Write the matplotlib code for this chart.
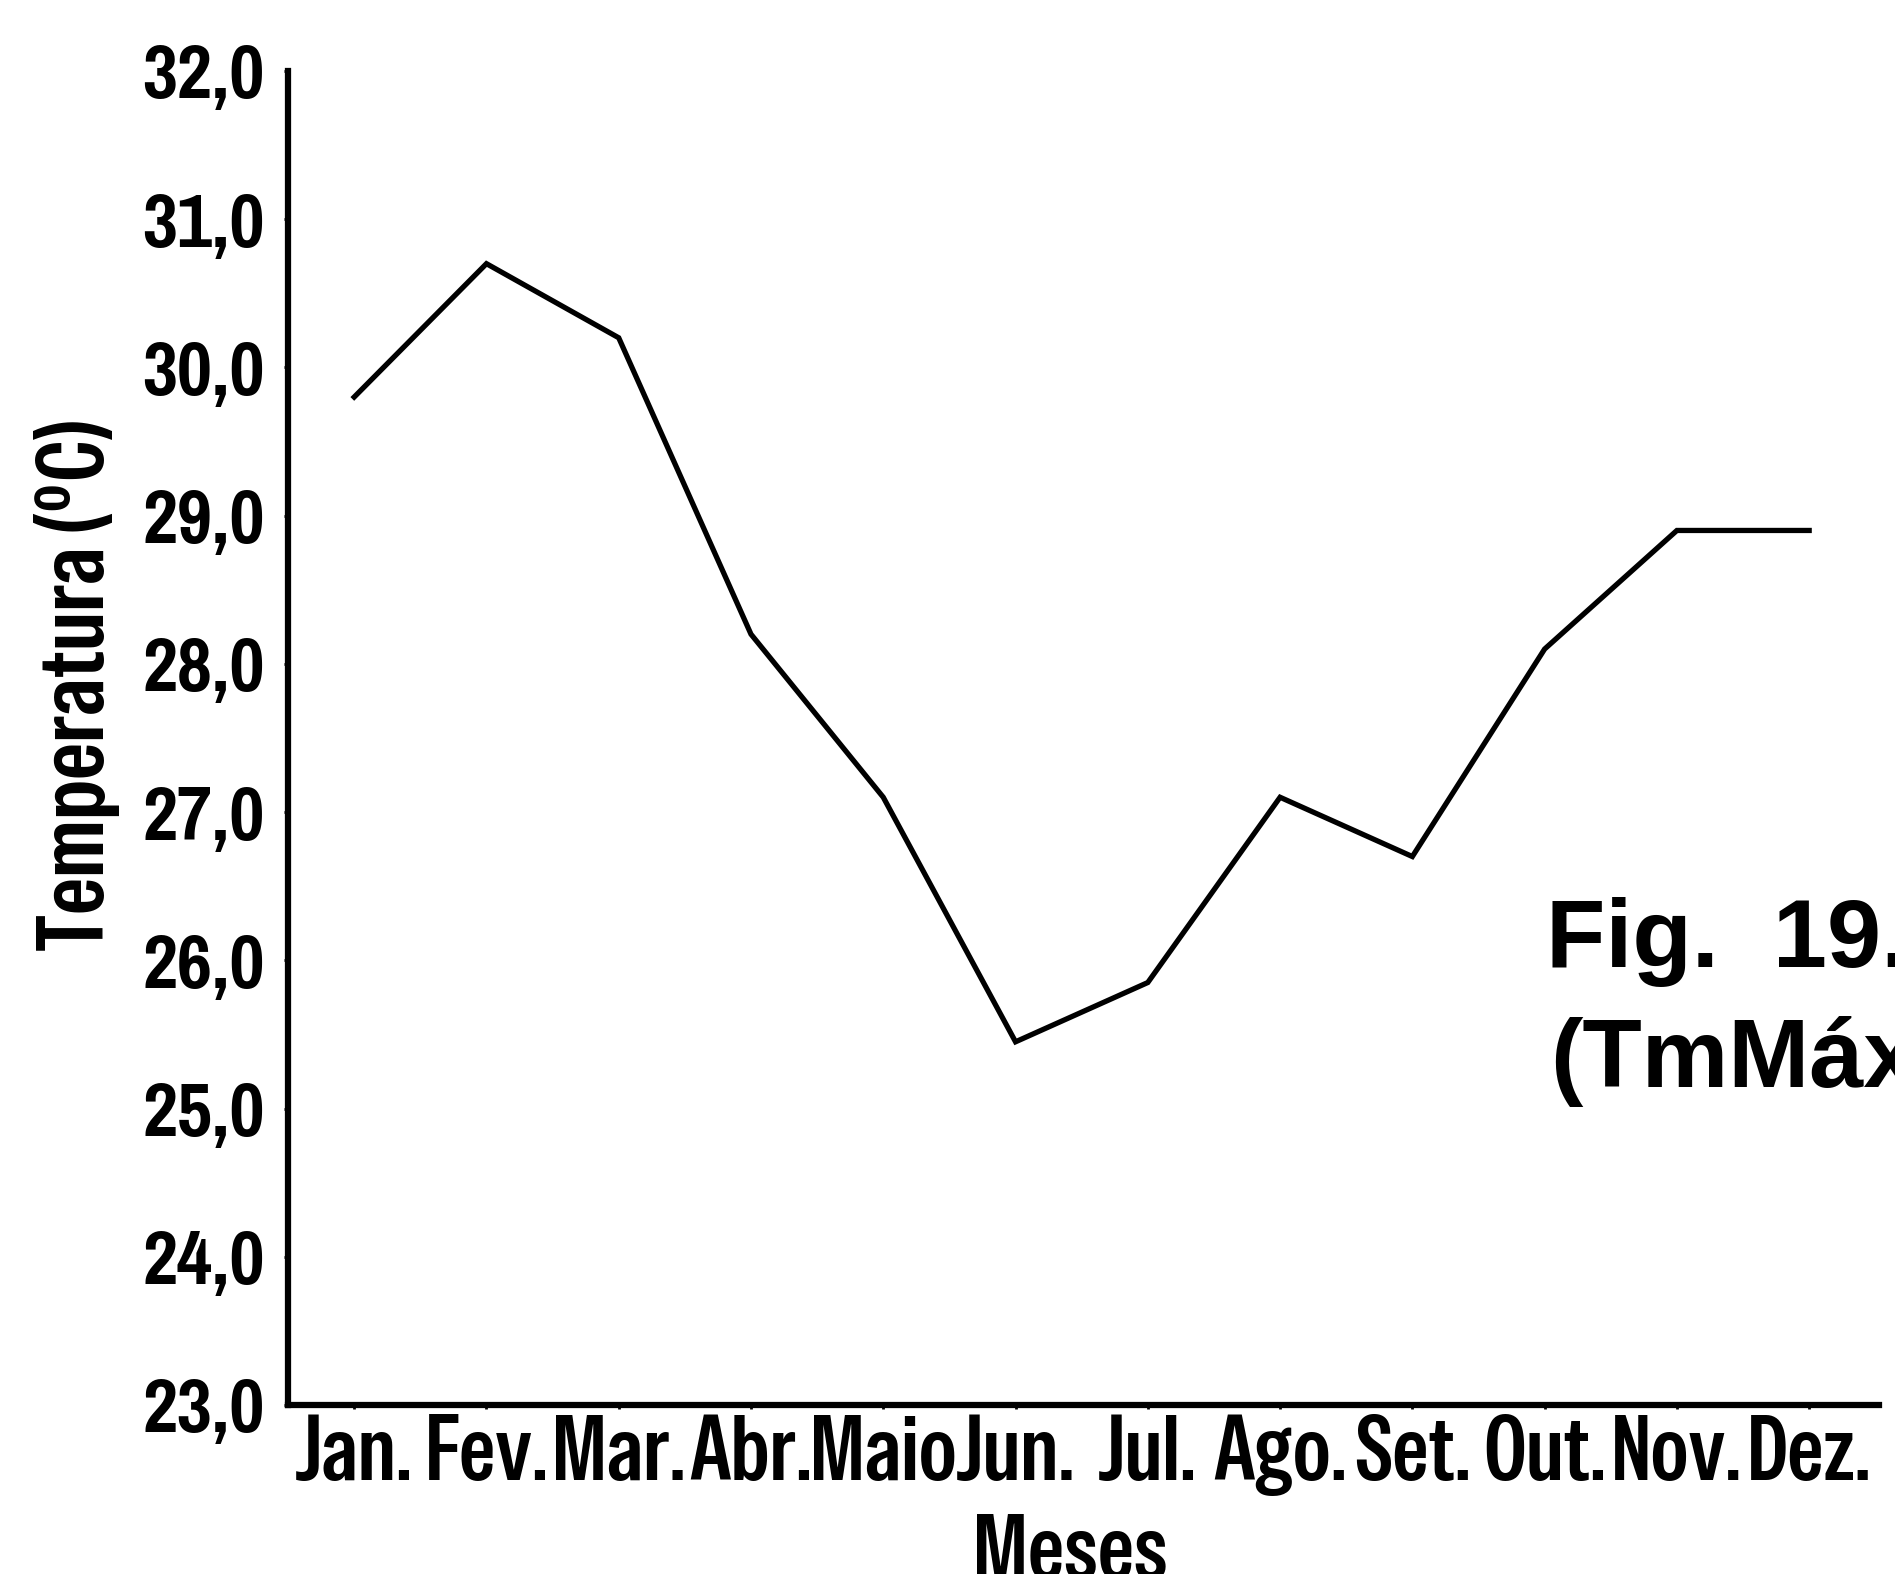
import matplotlib
matplotlib.use('Agg')
import matplotlib.pyplot as plt

# Monthly mean maximum temperature
months = ['Jan.', 'Fev.', 'Mar.', 'Abr.', 'Maio', 'Jun.',
          'Jul.', 'Ago.', 'Set.', 'Out.', 'Nov.', 'Dez.']
tmax = [29.8, 30.7, 30.2, 28.2, 27.1, 25.45,
        25.85, 27.1, 26.7, 28.1, 28.9, 28.9]
yticks = [23.0, 24.0, 25.0, 26.0, 27.0, 28.0, 29.0, 30.0, 31.0, 32.0]
ytick_labels = ['23,0', '24,0', '25,0', '26,0', '27,0',
                '28,0', '29,0', '30,0', '31,0', '32,0']

NARROW = ['Pragati Narrow', 'PT Sans Narrow', 'Roboto Condensed', 'DejaVu Sans']
COND = ['Special Gothic Condensed One', 'Saira ExtraCondensed', 'Pragati Narrow', 'DejaVu Sans']
SANS = ['Liberation Sans', 'DejaVu Sans']
plt.rcParams['mathtext.fontset'] = 'custom'
plt.rcParams['mathtext.bf'] = 'Special Gothic Condensed One'
plt.rcParams['mathtext.rm'] = 'Special Gothic Condensed One'

fig = plt.figure(figsize=(18.95, 15.74), dpi=100)
ax = fig.add_axes([0.152, 0.1074, 0.8397, 0.8475])

x = list(range(len(months)))
ax.plot(x, tmax, color='black', lw=3.8, solid_joinstyle='miter')

ax.set_xlim(-0.5, 11.53)
ax.set_ylim(23.0, 32.0)

for side in ('top', 'right'):
    ax.spines[side].set_visible(False)
for side in ('left', 'bottom'):
    ax.spines[side].set_linewidth(4.5)

ax.set_yticks(yticks)
ax.set_yticklabels(ytick_labels, family=NARROW, fontweight='bold', fontsize=60)
ax.set_xticks(x)
ax.set_xticklabels(months, family=COND, fontweight='bold', fontsize=66)
ax.tick_params(axis='y', length=3, width=2, pad=14)
ax.tick_params(axis='x', length=3, width=2, pad=4)

ax.set_ylabel(r'Temperatura ($\mathbf{^{o}}$C)', family=COND,
              fontweight='bold', fontsize=68, va='center')
ax.yaxis.set_label_coords(-0.1326, 0.539)
ax.set_xlabel('Meses', family=COND, fontweight='bold', fontsize=66, va='top')
ax.xaxis.set_label_coords(0.4915, -0.082)

fig.text(0.816, 0.3856, 'Fig.  19.', family=SANS,
         fontweight='bold', fontsize=70, va='baseline')
fig.text(0.818, 0.3094, '(TmMáx', family=SANS,
         fontweight='bold', fontsize=70, va='baseline')

fig.savefig('out.png', dpi=100, facecolor='white')
